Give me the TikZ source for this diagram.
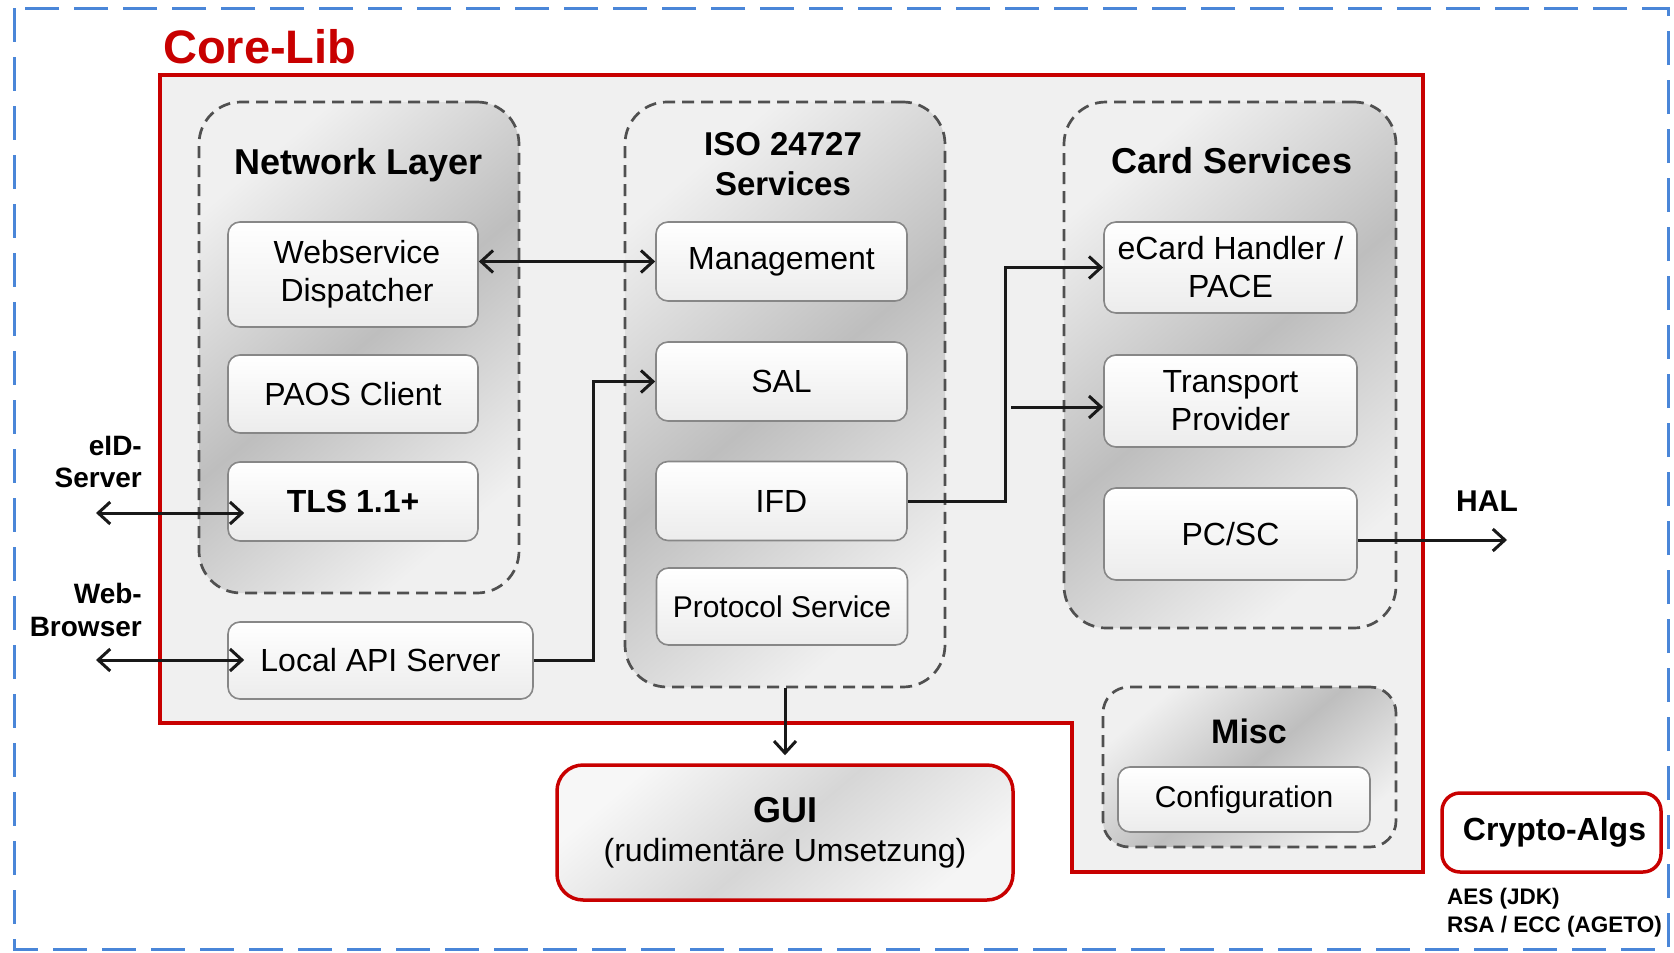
\documentclass[tikz,border=0pt]{standalone}
\usepackage{fontspec}
\setmainfont{Liberation Sans}
\usetikzlibrary{arrows.meta,calc}
\definecolor{cored}{RGB}{200,0,0}
\definecolor{bluedash}{RGB}{74,134,216}
\definecolor{corefill}{RGB}{240,240,240}
\definecolor{grpline}{RGB}{80,80,80}
\definecolor{boxline}{RGB}{135,135,135}
\definecolor{glight}{RGB}{240,240,240}
\definecolor{gdark}{RGB}{190,190,190}
\definecolor{boxbot}{RGB}{236,236,236}
\begin{document}
\begin{tikzpicture}[x=1pt,y=-1pt,
  grp/.style={draw=grpline, line width=2.7pt, dash pattern=on 12pt off 7pt, rounded corners=42pt,
    top color=glight, bottom color=glight, middle color=gdark, shading angle=40, inner sep=0pt},
  box/.style={draw=boxline, line width=1.6pt, rounded corners=12pt, top color=white, bottom color=boxbot,
    align=center, inner sep=0pt, font=\fontsize{32}{38}\selectfont},
  gtitle/.style={font=\fontsize{36}{40}\selectfont\bfseries, inner sep=0pt, anchor=base},
  lbl/.style={font=\fontsize{28}{32.5}\selectfont\bfseries, align=right, inner sep=0pt, anchor=east},
  conn/.style={line width=3pt, draw=black!90},
  onearrow/.style={conn, -{Straight Barb[length=12pt,width=22pt]}},
  twoarrow/.style={conn, {Straight Barb[length=12pt,width=22pt]}-{Straight Barb[length=12pt,width=22pt]}},
  redbox/.style={draw=cored, line width=3.5pt}
]
\useasboundingbox (0,0) rectangle (1674,953);
% outer blue frame
\draw[bluedash, line width=3pt, dash pattern=on 34pt off 15pt] (14,8) rectangle (1668,949);
% Core-Lib area
\draw[redbox, fill=corefill] (160,75) -- (1423,75) -- (1423,872) -- (1072,872) -- (1072,723) -- (160,723) -- cycle;
\node[font=\fontsize{47}{50}\selectfont\bfseries, text=cored, anchor=base west, inner sep=0pt] (corelib) at (163,63) {Core-Lib};

% groups
\node[grp, minimum width=320pt, minimum height=491pt] (net) at (359,347.5) {};
\node[grp, minimum width=320pt, minimum height=585pt] (iso) at (785,394.5) {};
\node[grp, minimum width=332pt, minimum height=526pt] (card) at (1230,365) {};
\node[grp, rounded corners=26pt, minimum width=293pt, minimum height=160pt] (misc) at (1249.5,767) {};

% group titles
\node[gtitle] (netT) at (359,174) {Network Layer};
\node[font=\fontsize{33}{40}\selectfont\bfseries, align=center, inner sep=0pt] (isoT) at (783,164) {ISO 24727\\Services};
\node[gtitle] (cardT) at (1232,173) {Card Services};
\node[gtitle, font=\fontsize{34}{40}\selectfont\bfseries] (miscT) at (1249,743) {Misc};

% network layer boxes
\node[box, minimum width=250pt, minimum height=105pt] (wsd) at (353,274.5) {\hspace*{8pt}Webservice\\\hspace*{8pt}Dispatcher};
\node[box, minimum width=250pt, minimum height=78pt] (paos) at (353,394) {PAOS Client};
\node[box, minimum width=250pt, minimum height=79pt, font=\fontsize{32}{38}\selectfont\bfseries] (tls) at (353,501.5) {TLS 1.1+};
\node[box, minimum width=305pt, minimum height=77pt] (lapi) at (380.5,660.5) {Local API Server};

% ISO boxes
\node[box, minimum width=251pt, minimum height=79pt] (mgmt) at (781.5,261.5) {Management};
\node[box, minimum width=251pt, minimum height=79pt] (sal) at (781.5,381.5) {SAL};
\node[box, minimum width=251pt, minimum height=79pt] (ifd) at (781.5,501) {IFD};
\node[box, minimum width=251pt, minimum height=77pt, font=\fontsize{30}{36}\selectfont] (proto) at (782,606.5) {Protocol Service};

% card boxes
\node[box, minimum width=253pt, minimum height=91pt] (ecard) at (1230.5,267.5) {eCard Handler /\\PACE};
\node[box, minimum width=253pt, minimum height=92pt] (transport) at (1230.5,401) {Transport\\Provider};
\node[box, minimum width=253pt, minimum height=92pt] (pcsc) at (1230.5,534) {PC/SC};
\node[box, minimum width=252pt, minimum height=65pt, font=\fontsize{30}{36}\selectfont] (config) at (1244,799.5) {Configuration};

% GUI and Crypto
\node[redbox, rounded corners=26pt, top color=gray!6, bottom color=gray!8, middle color=gray!32, shading angle=40,
  minimum width=456pt, minimum height=135pt, align=center, inner sep=0pt, font=\fontsize{32}{39}\selectfont] (gui) at (785,832.5)
  {{\fontsize{36}{40}\selectfont\bfseries GUI}\\(rudimentäre Umsetzung)};
\node[redbox, rounded corners=18pt, fill=white, minimum width=219pt, minimum height=79pt, inner sep=0pt,
  font=\fontsize{32}{38}\selectfont\bfseries] (crypto) at (1551.5,832.5) {\hspace*{6pt}Crypto-Algs};
\node[font=\fontsize{22.5}{28}\selectfont\bfseries, align=left, anchor=west, inner sep=0pt] (algs) at (1447,913) {AES (JDK)\\RSA / ECC (AGETO)};

% outside labels
\node[lbl] (eidL) at (142,462) {eID-\\Server};
\node[lbl] (webL) at (142,610) {Web-\\Browser};
\node[font=\fontsize{30}{36}\selectfont\bfseries, inner sep=0pt] (halL) at (1487,501) {HAL};

% connectors
\coordinate (eidEnd) at (96,513);
\coordinate (webEnd) at (96,660);
\coordinate (j1) at (593,381.5);
\coordinate (j2) at (1005,267.5);
\coordinate (j3) at (1011,407);
\coordinate (halEnd) at (1507,540);
\draw[twoarrow, shorten >=-17pt] (eidEnd) -- (eidEnd -| tls.west);
\draw[twoarrow, shorten >=-17pt] (webEnd) -- (webEnd -| lapi.west);
\draw[twoarrow] (wsd.east |- mgmt.west) -- (mgmt.west);
\draw[onearrow] (lapi.east) -| (j1) -- (sal.west);
\draw[onearrow] (ifd.east) -| (j2) -- (ecard.west);
\draw[onearrow] (j3) -- (j3 -| transport.west);
\draw[onearrow] (pcsc.east |- halEnd) -- (halEnd);
\draw[onearrow, shorten >=8pt] (iso.south) -- (gui.north);
\end{tikzpicture}
\end{document}
